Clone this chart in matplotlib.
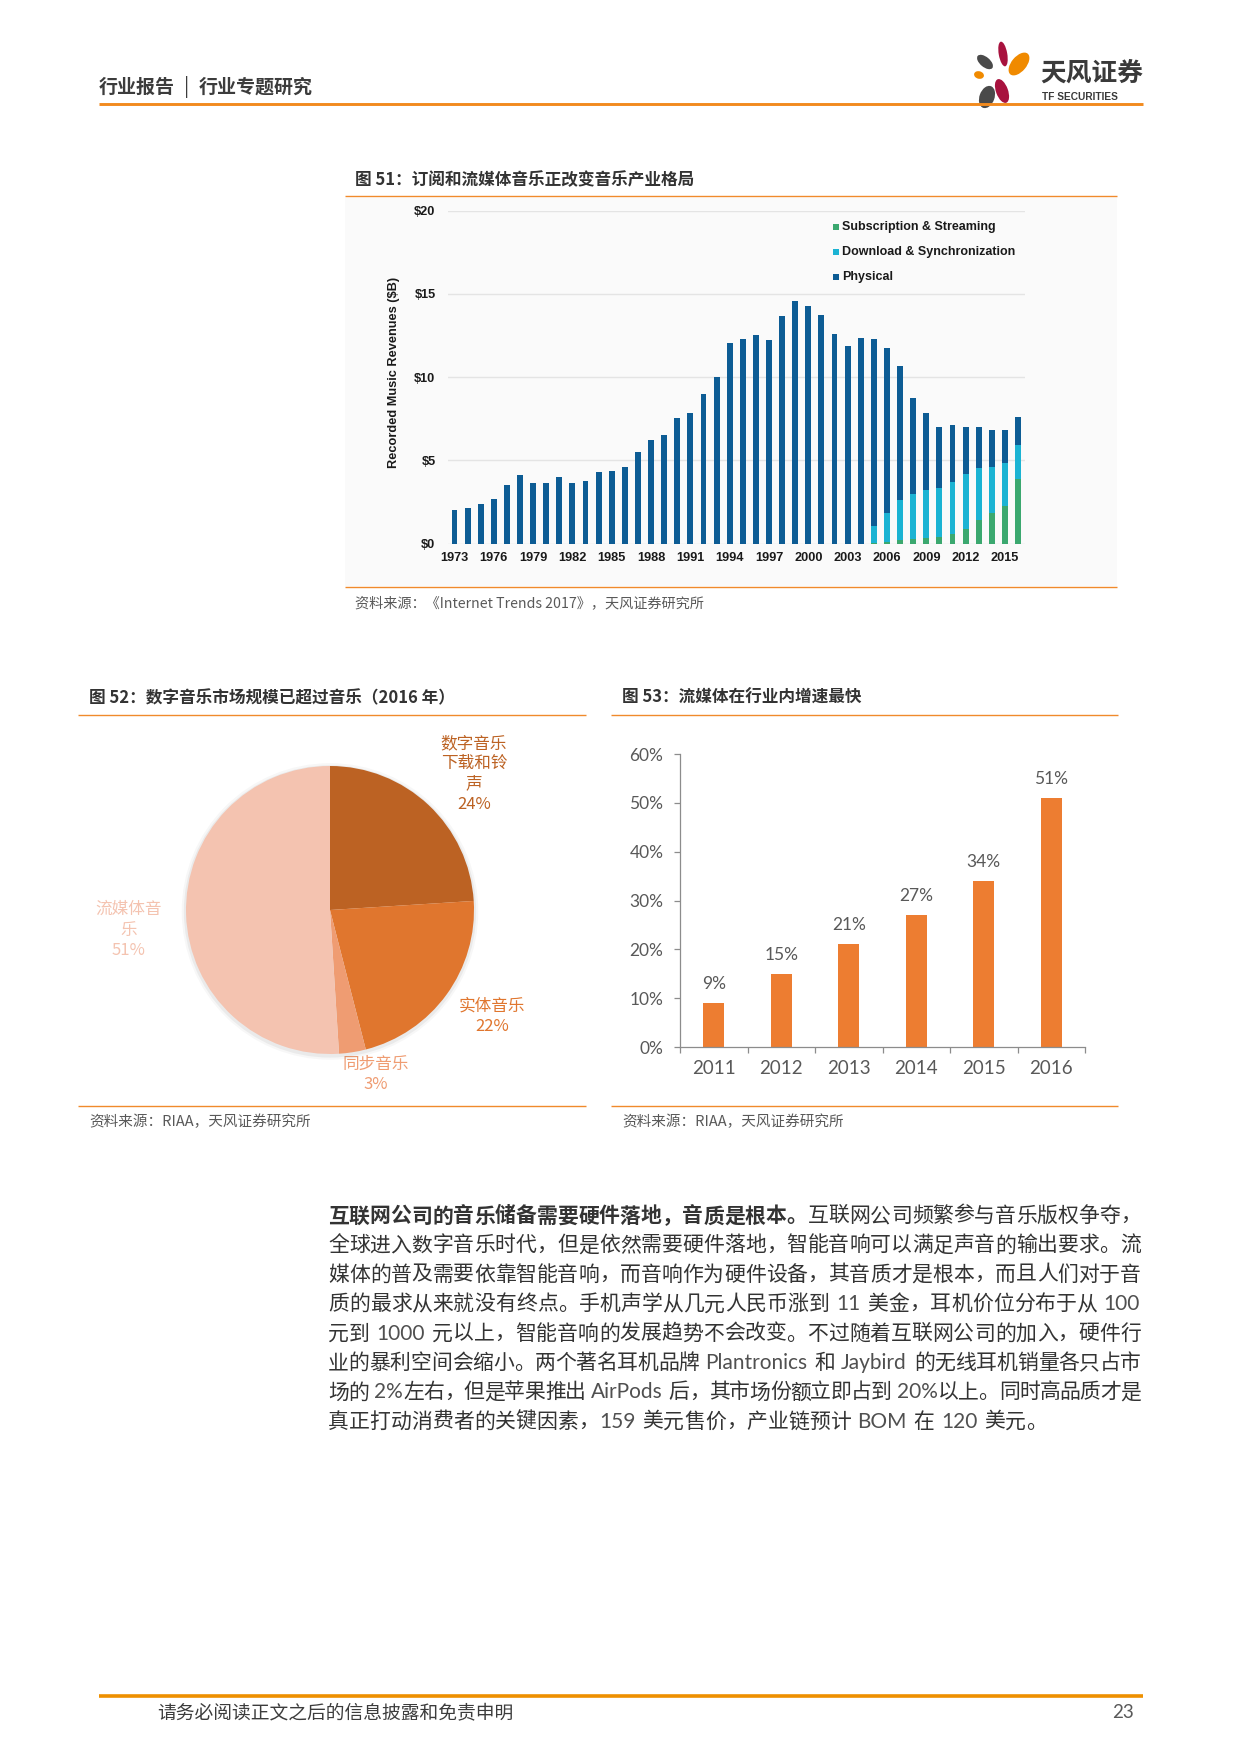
import re
import numpy as np
import matplotlib
matplotlib.use('Agg')
import matplotlib.pyplot as plt
from matplotlib.patches import Ellipse, Rectangle

plt.rcParams['font.family'] = ['Noto Sans CJK SC', 'DejaVu Sans']

# 图51 数据（单位：十亿美元），1973-2016
years = list(range(1973, 2017))
physical = [2.0, 2.16, 2.36, 2.69, 3.49, 4.09, 3.65, 3.65, 3.97, 3.61,
            3.75, 4.31, 4.33, 4.59, 5.51, 6.23, 6.55, 7.52, 7.82, 9.0,
            10.02, 12.06, 12.3, 12.52, 12.2, 13.69, 14.57, 14.29, 13.73, 12.59,
            11.86, 12.32, 11.2, 9.86, 8.0, 5.74, 4.58, 3.66, 3.41, 2.82,
            2.46, 2.25, 1.99, 1.7]
digital_years = list(range(2005, 2017))
download = [1.02, 1.76, 2.44, 2.7, 2.9, 2.94, 3.1, 3.28, 3.14, 2.74, 2.62, 2.0]
streaming = [0.04, 0.1, 0.2, 0.3, 0.34, 0.4, 0.6, 0.9, 1.4, 1.86, 2.24, 3.9]
rev_ticks = [0, 5, 10, 15, 20]
rev_tick_labels = ['$0', '$5', '$10', '$15', '$20']
legend_labels = ['Subscription & Streaming', 'Download & Synchronization', 'Physical']

# 图52 数据
share_names = ['数字音乐下载和铃声', '实体音乐', '同步音乐', '流媒体音乐']
share_values = [24, 22, 3, 51]

# 图53 数据
growth_years = ['2011', '2012', '2013', '2014', '2015', '2016']
growth = [9, 15, 21, 27, 34, 51]
growth_ticks = [0, 10, 20, 30, 40, 50, 60]

GREEN = '#3BA86F'
CYAN = '#1BB3D3'
BLUE = '#0D5C94'
pie_colors = ['#BC6223', '#E0762E', '#EF9C72', '#F4C3B0']
BAR = '#ED7D31'
RULE = '#F08A2C'
TXT = '#333333'
GREY = '#595959'
LATIN = ['Lato', 'Noto Sans CJK SC']
ARIAL = ['Liberation Sans', 'DejaVu Sans']

W, H, DPI = 1240, 1754, 100
fig = plt.figure(figsize=(W / DPI, H / DPI), dpi=DPI)
page = fig.add_axes([0, 0, 1, 1], zorder=0)
page.set_xlim(0, W)
page.set_ylim(H, 0)
page.axis('off')
renderer = fig.canvas.get_renderer()


def box(left, top, right, bottom):
    return fig.add_axes([left / W, 1 - bottom / H, (right - left) / W, (bottom - top) / H], zorder=2)


def rule(x0, x1, y, lw=1.0, color=RULE):
    page.plot([x0, x1], [y, y], color=color, lw=lw, solid_capstyle='butt')


# 页眉
hs = 13.7
hem = hs * DPI / 72
page.text(99, 87, '行业报告', fontsize=hs, weight='bold', color='#3C3C3C', va='center')
page.text(99 + 4 * hem + 12, 87, '|', fontsize=hs, color='#3C3C3C', va='center', ha='center')
page.text(99 + 4 * hem + 24, 87, '行业专题研究', fontsize=hs, weight='bold', color='#3C3C3C', va='center')
rule(99, 1143, 103.5, lw=2.1, color='#F28A1E')
# logo
petals = [((985, 62), 10, 19, -50, '#4A4A4A'),
          ((1003, 54), 8.5, 25, -10, '#A8123E'),
          ((1019, 64), 15, 27, 40, '#F08A00'),
          ((979, 75), 10, 7.5, 15, '#F08A00'),
          ((987, 97), 15, 23, 20, '#4A4A4A'),
          ((1002, 91), 12, 25, -20, '#A8123E')]
for c, w, h, a, col in petals:
    page.add_patch(Ellipse(c, w, h, angle=a, color=col, lw=0))
page.text(1040, 73, '天风证券', fontsize=18.5, weight='bold', color='#3A3A3A', va='center')
page.text(1042, 96.5, 'TF SECURITIES', fontsize=7.3, weight='bold', color='#3A3A3A', va='center',
          family=['Liberation Sans Narrow', 'Liberation Sans'])

# ---------- 图51 ----------
page.text(355, 180, '图 51：订阅和流媒体音乐正改变音乐产业格局', fontsize=12, weight='bold', color=TXT, va='center')
rule(345, 1117, 196)
page.add_patch(Rectangle((345, 198), 772, 388, color='#FAFAFA', lw=0, zorder=0))
rule(345, 1117, 587)
page.text(355, 603, '资料来源：《Internet Trends 2017》，天风证券研究所', fontsize=10.2, color=GREY, va='center')

ax1 = box(448, 210.7, 1025, 543.5)
base = np.zeros(len(years))
base[-len(digital_years):] = np.array(streaming) + np.array(download)
bw = 0.45
ax1.bar(digital_years, streaming, width=bw, color=GREEN, lw=0)
ax1.bar(digital_years, download, bottom=streaming, width=bw, color=CYAN, lw=0)
ax1.bar(years, physical, bottom=base, width=bw, color=BLUE, lw=0)
step = (1018 - 454.5) / (years[-1] - years[0])
ax1.set_xlim(years[0] - (454.5 - 448) / step, years[-1] + (1025 - 1018) / step)
ax1.set_ylim(0, 20)
ax1.set_yticks(rev_ticks)
ax1.set_yticklabels(rev_tick_labels)
ax1.set_xticks(years[::3])
ax1.set_xticklabels([str(y) for y in years[::3]])
ax1.yaxis.grid(True, color='#E4E4E4', lw=1)
ax1.set_axisbelow(True)
ax1.set_facecolor('none')
for s in ax1.spines.values():
    s.set_visible(False)
ax1.tick_params(axis='y', length=0, pad=9)
ax1.tick_params(axis='x', length=0, pad=6)
for lab in ax1.get_xticklabels() + ax1.get_yticklabels():
    lab.set_family(ARIAL)
    lab.set_fontweight('bold')
    lab.set_fontsize(9.2)
    lab.set_color('#1A1A1A')
page.text(394, 372, 'Recorded Music Revenues ($B)', rotation=90, fontsize=9.2, weight='bold',
          family=ARIAL, color='#1A1A1A', ha='center', va='center')
for i, (lab, col) in enumerate(zip(legend_labels, [GREEN, CYAN, BLUE])):
    y = 227 + 25 * i
    page.add_patch(Rectangle((833, y - 3), 6, 6, color=col, lw=0))
    page.text(842, y, lab, fontsize=9, weight='bold', family=ARIAL, color='#1A1A1A', va='center')

# ---------- 图52 ----------
page.text(89, 698, '图 52：数字音乐市场规模已超过音乐（2016 年）', fontsize=12, weight='bold', color=TXT, va='center')
rule(78, 586, 715)
rule(78, 586, 1106)
page.text(89, 1122, '资料来源：RIAA，天风证券研究所', fontsize=10.5, color=GREY, va='center')

cx, cy, r = 330, 910, 144
ax2 = box(cx - 1.25 * r, cy - 1.25 * r, cx + 1.25 * r, cy + 1.25 * r)
for rr, al in [(1.03, 0.03), (1.015, 0.05)]:
    ax2.add_patch(plt.Circle((0.0, -0.01), rr, color='black', alpha=al, lw=0))
ax2.pie(share_values, colors=pie_colors, startangle=90, counterclock=False,
        radius=1, wedgeprops=dict(linewidth=0))
ax2.set_xlim(-1.25, 1.25)
ax2.set_ylim(-1.25, 1.25)
ax2.set_aspect('equal')
ax2.axis('off')
label_pos = [(474, 774), (492, 1016), (376, 1074), (129, 930)]
for name, val, col, (lx, ly) in zip(share_names, share_values, pie_colors, label_pos):
    lines = [name[i:i + 4] for i in range(0, len(name), 4)]
    page.text(lx, ly, '\n'.join(lines + [f'{val}%']), fontsize=12, color=col,
              ha='center', va='center', linespacing=1.25, multialignment='center')

# ---------- 图53 ----------
page.text(622, 698, '图 53：流媒体在行业内增速最快', fontsize=12, weight='bold', color=TXT, va='center')
rule(611, 1118, 715)
rule(611, 1118, 1106)
page.text(622, 1122, '资料来源：RIAA，天风证券研究所', fontsize=10.5, color=GREY, va='center')

ax3 = box(680, 754, 1085, 1047)
xs = np.arange(len(growth_years))
bars = ax3.bar(xs, growth, width=0.31, color=BAR, lw=0)
for b, v in zip(bars, growth):
    ax3.annotate(f'{v}%', (b.get_x() + b.get_width() / 2, v), xytext=(0, 8), textcoords='offset points',
                 ha='center', va='bottom', fontsize=12.5, color=GREY, family=LATIN)
ax3.set_xlim(-0.5, len(growth_years) - 0.5)
ax3.set_ylim(0, 60)
ax3.set_yticks(growth_ticks)
ax3.set_yticklabels([f'{v}%' for v in growth_ticks])
ax3.set_xticks(xs)
ax3.set_xticklabels(growth_years)
ax3.set_xticks(np.arange(len(growth_years) + 1) - 0.5, minor=True)
ax3.set_facecolor('none')
for k in ['top', 'right']:
    ax3.spines[k].set_visible(False)
for k in ['left', 'bottom']:
    ax3.spines[k].set_color('#8C8C8C')
    ax3.spines[k].set_linewidth(0.9)
ax3.tick_params(axis='y', length=4, width=0.9, color='#8C8C8C', pad=8, labelsize=12.5, labelcolor=GREY)
ax3.tick_params(axis='x', which='major', length=0, pad=9, labelsize=13.5, labelcolor=GREY)
ax3.tick_params(axis='x', which='minor', length=4, width=0.9, color='#8C8C8C')
for lab in ax3.get_xticklabels() + ax3.get_yticklabels():
    lab.set_family(LATIN)

# ---------- 正文 ----------
para = [
    [('互联网公司的音乐储备需要硬件落地，音质是根本。', True), ('互联网公司频繁参与音乐版权争夺，', False)],
    [('全球进入数字音乐时代，但是依然需要硬件落地，智能音响可以满足声音的输出要求。流', False)],
    [('媒体的普及需要依靠智能音响，而音响作为硬件设备，其音质才是根本，而且人们对于音', False)],
    [('质的最求从来就没有终点。手机声学从几元人民币涨到 11 美金，耳机价位分布于从 100', False)],
    [('元到 1000 元以上，智能音响的发展趋势不会改变。不过随着互联网公司的加入，硬件行', False)],
    [('业的暴利空间会缩小。两个著名耳机品牌 Plantronics 和 Jaybird 的无线耳机销量各只占市', False)],
    [('场的 2%左右，但是苹果推出 AirPods 后，其市场份额立即占到 20%以上。同时高品质才是', False)],
    [('真正打动消费者的关键因素，159 美元售价，产业链预计 BOM 在 120 美元。', False)],
]
FS = 15
em = FS * DPI / 72


def draw_line(segments, x0, x1, y, justify):
    items = []
    for s, bold in segments:
        for tok in re.findall(r'[A-Za-z0-9%.]+| |.', s):
            items.append((tok, bold))
    widths = []
    for tok, bold in items:
        if tok == ' ':
            widths.append(em * 0.3)
        elif ord(tok[0]) > 0x2E80:
            widths.append(em)
        else:
            tt = page.text(0, y, tok, fontsize=FS, family=LATIN)
            widths.append(tt.get_window_extent(renderer).width + em * 0.05)
            tt.remove()
    gap = (x1 - x0 - sum(widths)) / (len(items) - 1) if justify else 0
    x = x0
    for (tok, bold), w in zip(items, widths):
        if tok == ' ':
            pass
        elif ord(tok[0]) > 0x2E80:
            page.text(x, y, tok, fontsize=FS, weight='bold' if bold else 'normal',
                      color='#333333', ha='left', va='center')
        else:
            page.text(x, y, tok, fontsize=FS, family=LATIN, color='#505050', ha='left', va='center')
        x += w + gap


for i, segs in enumerate(para):
    draw_line(segs, 328, 1141, 1216 + 29.4 * i, justify=i < len(para) - 1)

# 页脚
rule(99, 1143, 1695.5, lw=2.6, color='#EE9000')
page.text(157, 1713, '请务必阅读正文之后的信息披露和免责申明', fontsize=13.5, color='#3C3C3C', va='center')
page.text(1134, 1713, '23', fontsize=13.5, color=GREY, va='center', ha='right', family=LATIN)

fig.savefig('out.png', dpi=DPI)
